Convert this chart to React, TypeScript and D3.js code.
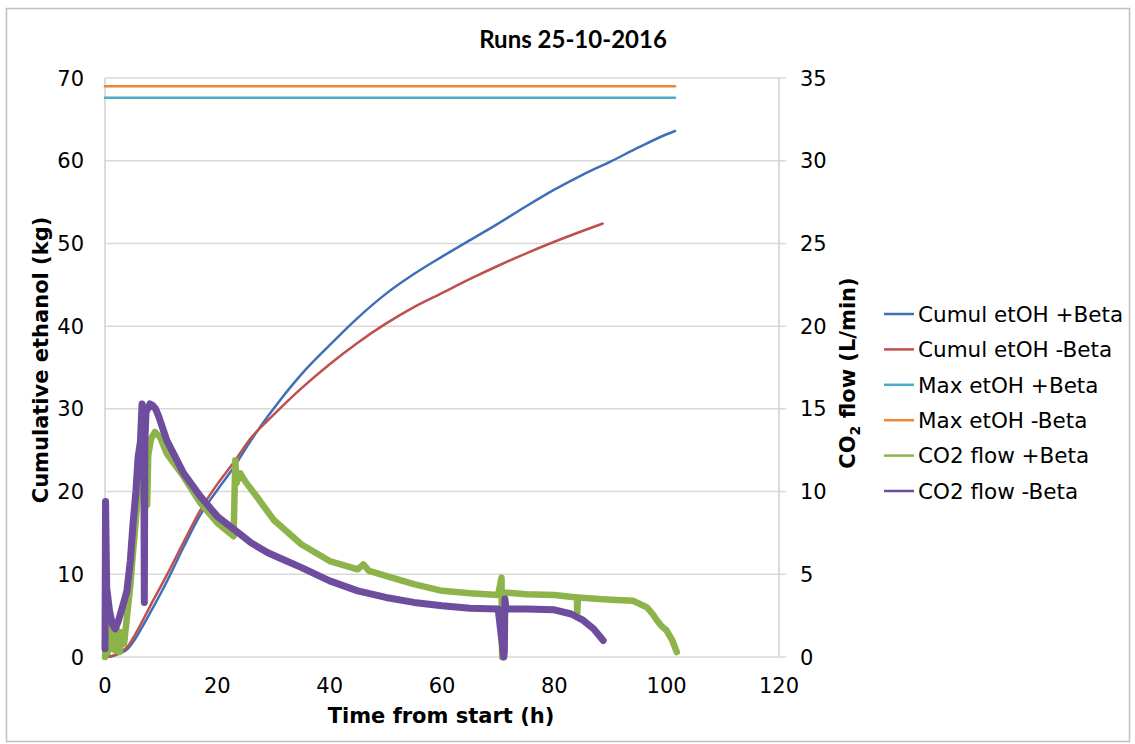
import React from "react";
import * as d3 from "d3";

// ---------- data ----------
const xTicks = [0, 20, 40, 60, 80, 100, 120];
const leftTicks = [0, 10, 20, 30, 40, 50, 60, 70];
const rightTicks = [0, 5, 10, 15, 20, 25, 30, 35];

const cumulPlusT = [0, 1, 2, 3, 4, 5, 6, 8, 11, 14, 17, 20, 23, 26, 29, 31, 35, 40, 45, 50, 55, 60, 65, 70, 75, 80, 85, 90, 95, 100, 101.5];
const cumulPlusV = [0, 0.05, 0.25, 0.55, 0.95, 1.8, 2.9, 5.3, 9.1, 13.3, 17.2, 20.2, 23.0, 26.2, 29.1, 30.9, 34.2, 37.7, 41.0, 43.9, 46.3, 48.4, 50.4, 52.4, 54.5, 56.5, 58.3, 59.9, 61.6, 63.2, 63.6];

const cumulMinusT = [0, 1, 2, 3, 4, 5, 6, 8, 11, 14, 17, 20, 23, 26, 29, 32, 35, 40, 45, 50, 55, 60, 65, 70, 75, 80, 85, 88.6];
const cumulMinusV = [0, 0.1, 0.3, 0.7, 1.25, 2.3, 3.5, 6.1, 9.9, 13.9, 17.8, 20.9, 23.6, 26.5, 28.6, 30.6, 32.5, 35.4, 38.0, 40.3, 42.3, 44.0, 45.7, 47.3, 48.8, 50.2, 51.5, 52.4];

const maxPlusT = [0, 101.5];
const maxPlusV = [67.6, 67.6];
const maxMinusT = [0, 101.5];
const maxMinusV = [69.0, 69.0];

const co2PlusT = [0, 0.2, 0.5, 0.8, 1.1, 1.4, 1.8, 2.2, 2.6, 3.0, 3.4, 3.9, 4.5, 5.0, 5.5, 5.9, 6.4, 6.8, 7.2, 7.5, 7.7, 8.2, 8.9, 9.8, 11, 14, 17, 20, 22.9, 23.2, 23.4, 24.1, 25, 27, 30, 35, 40, 45, 46, 47, 50, 55, 60, 65, 70, 70.6, 70.7, 70.9, 71.0, 75, 80, 84, 84.1, 84.2, 88, 91, 94, 96.5, 97.5, 98.3, 99, 100, 101, 101.8];
const co2PlusV = [0, 1.5, 0.3, 2.0, 0.5, 1.8, 0.4, 1.6, 0.3, 1.5, 0.8, 2.4, 4.3, 6.4, 8.3, 10.0, 11.2, 11.5, 12.0, 9.2, 12.2, 13.2, 13.6, 13.3, 12.3, 10.9, 9.3, 8.1, 7.3, 11.9, 10.5, 11.1, 10.6, 9.7, 8.3, 6.8, 5.8, 5.3, 5.6, 5.2, 4.9, 4.4, 4.0, 3.85, 3.75, 4.8, 0, 0, 3.9, 3.8, 3.75, 3.6, 2.7, 3.6, 3.5, 3.45, 3.4, 3.0, 2.6, 2.2, 1.9, 1.6, 1.0, 0.3];

const co2MinusT = [0, 0.1, 0.3, 0.8, 1.3, 1.8, 2.4, 3.0, 3.5, 3.9, 4.5, 5.0, 5.5, 5.9, 6.3, 6.6, 6.9, 7.0, 7.1, 7.3, 7.6, 8.0, 8.5, 9.0, 9.5, 11, 14, 17, 20, 23, 26, 29, 31, 35, 40, 45, 50, 55, 60, 65, 70, 71.0, 71.1, 71.2, 71.4, 75, 80, 83, 85, 87, 88.7];
const co2MinusV = [0.5, 9.4, 4.2, 2.8, 2.0, 1.7, 2.2, 2.9, 3.5, 4.0, 5.8, 8.1, 10.0, 12.1, 13.0, 15.3, 13.5, 3.3, 13.0, 14.8, 15.0, 15.3, 15.2, 15.0, 14.6, 13.1, 11.1, 9.7, 8.5, 7.7, 6.9, 6.3, 6.0, 5.4, 4.6, 4.0, 3.6, 3.3, 3.1, 2.95, 2.9, 0, 0.3, 3.5, 2.9, 2.9, 2.85, 2.6, 2.25, 1.7, 1.0];

const legendLabels = ["Cumul etOH +Beta", "Cumul etOH -Beta", "Max etOH +Beta", "Max etOH -Beta", "CO2 flow +Beta", "CO2 flow -Beta"];

// ---------- layout ----------
const W = 1135;
const H = 744;
const X0 = 105, X1 = 779, Y0 = 657, Y1 = 78;

const colors = ["#3F70B7", "#C0504D", "#4BACC6", "#EE8436", "#8DB44A", "#6E4C9E"];
const widths = [2.5, 2.5, 2.5, 2.5, 6.5, 7];

export default function App() {
  const x = d3.scaleLinear().domain([0, 120]).range([X0, X1]);
  const yL = d3.scaleLinear().domain([0, 70]).range([Y0, Y1]);
  const yR = d3.scaleLinear().domain([0, 35]).range([Y0, Y1]);

  const mk = (ts: number[], vs: number[], y: d3.ScaleLinear<number, number>, curve = true) => {
    const pts = ts.map((t, i) => [t, vs[i]] as [number, number]);
    const line = d3
      .line<[number, number]>()
      .x((d) => x(d[0]))
      .y((d) => y(d[1]));
    if (curve) line.curve(d3.curveMonotoneX);
    return line(pts) || "";
  };

  const paths = [
    mk(cumulPlusT, cumulPlusV, yL),
    mk(cumulMinusT, cumulMinusV, yL),
    mk(maxPlusT, maxPlusV, yL, false),
    mk(maxMinusT, maxMinusV, yL, false),
    mk(co2PlusT, co2PlusV, yR, false),
    mk(co2MinusT, co2MinusV, yR, false),
  ];

  const tickFont = "'DejaVu Sans', Verdana, sans-serif";

  return (
    <svg width={W} height={H} style={{ position: "absolute", left: 0, top: 0, background: "#fff" }}>
      <rect x={0} y={0} width={W} height={H} fill="#fff" />
      <rect x={6.5} y={8.5} width={1123} height={733} fill="none" stroke="#BFBFBF" strokeWidth={1.5} />

      {/* title */}
      <text x={573} y={48} textAnchor="middle" fontFamily="Lato, 'Open Sans', sans-serif" fontWeight="bold" fontSize={24} fill="#000">
        Runs 25-10-2016
      </text>

      {/* gridlines */}
      {leftTicks.map((t) => (
        <line key={"g" + t} x1={X0} x2={X1 + 7} y1={yL(t)} y2={yL(t)} stroke="#D9D9D9" strokeWidth={1.5} />
      ))}
      <line x1={X0} x2={X0} y1={Y1} y2={Y0} stroke="#D0D0D0" strokeWidth={1.5} />
      <line x1={X1} x2={X1} y1={Y1} y2={Y0} stroke="#D0D0D0" strokeWidth={1.5} />

      {/* left ticks */}
      {leftTicks.map((t) => (
        <text key={"l" + t} x={84} y={yL(t)} dy="0.36em" textAnchor="end" fontFamily={tickFont} fontSize={21} fill="#000">
          {t}
        </text>
      ))}
      {/* right ticks */}
      {rightTicks.map((t) => (
        <text key={"r" + t} x={800} y={yR(t)} dy="0.36em" textAnchor="start" fontFamily={tickFont} fontSize={21} fill="#000">
          {t}
        </text>
      ))}
      {/* x ticks */}
      {xTicks.map((t) => (
        <text key={"x" + t} x={x(t)} y={693} textAnchor="middle" fontFamily={tickFont} fontSize={21} fill="#000">
          {t}
        </text>
      ))}

      {/* axis titles */}
      <text x={441} y={723} textAnchor="middle" fontFamily={tickFont} fontWeight="bold" fontSize={21} fill="#000">
        Time from start (h)
      </text>
      <text transform="translate(48,360) rotate(-90)" textAnchor="middle" fontFamily={tickFont} fontWeight="bold" fontSize={21} fill="#000">
        Cumulative ethanol (kg)
      </text>
      <text transform="translate(855,373) rotate(-90)" textAnchor="middle" fontFamily={tickFont} fontWeight="bold" fontSize={21} fill="#000">
        CO<tspan fontSize={14} dy={5}>2</tspan>
        <tspan dy={-5}> flow (L/min)</tspan>
      </text>

      {/* series */}
      {paths.map((p, i) => (
        <path key={"p" + i} d={p} fill="none" stroke={colors[i]} strokeWidth={widths[i]} strokeLinejoin="round" strokeLinecap="round" />
      ))}

      {/* legend */}
      {legendLabels.map((lab, i) => {
        const ly = 314 + i * 35.4;
        return (
          <g key={"lg" + i}>
            <line x1={884} x2={914} y1={ly} y2={ly} stroke={colors[i]} strokeWidth={2.5} />
            <text x={918} y={ly} dy="0.36em" fontFamily={tickFont} fontSize={21.5} fill="#000">
              {lab}
            </text>
          </g>
        );
      })}
    </svg>
  );
}
